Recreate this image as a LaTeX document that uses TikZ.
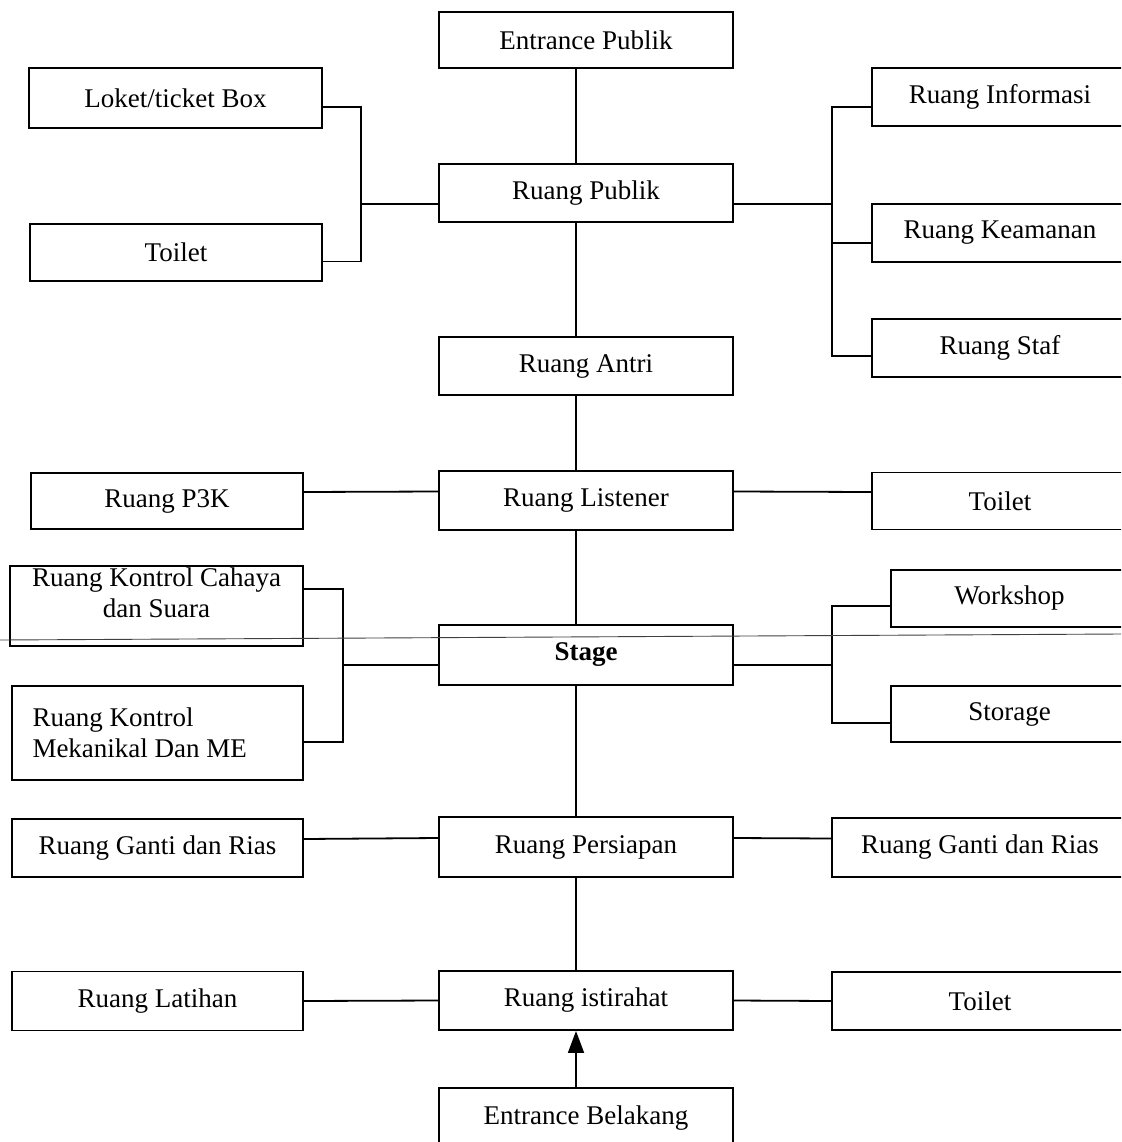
\documentclass[tikz,border=0pt]{standalone}
\usepackage{fontspec}
\setmainfont{Liberation Serif}
\usetikzlibrary{arrows.meta, positioning}
\tikzset{
  % kotak ruang
  ruang/.style={draw=black, line width=1.9pt, minimum height=58pt, align=center,
    inner sep=2pt, font=\fontsize{27}{31}\selectfont},
  % kotak kolom tengah
  tengah/.style={ruang, minimum width=294pt},
  % garis penghubung
  hub/.style={line width=1.8pt},
  % pintu masuk belakang
  masuk/.style={hub, -{Triangle[length=22pt, width=16pt]}},
}

\begin{document}
\begin{tikzpicture}[x=1pt, y=-1pt]
  \clip (0,0) rectangle (1121,1142);
  \fill[white] (0,0) rectangle (1121,1142);
  % kolom tengah
  \node[tengah, minimum height=56pt] (entpub) at (586,40) {Entrance Publik};
  \node[tengah] (publik) at (586,193) {Ruang Publik};
  \node[tengah] (antri) at (586,366) {Ruang Antri};
  \node[tengah, minimum height=59pt] (listener) at (586,500.5) {Ruang Listener};
  \node[tengah, minimum height=60pt, font=\fontsize{27}{31}\selectfont\bfseries] (stage) at (586,655) {Stage};
  \node[tengah, minimum height=60pt] (persiapan) at (586,847) {Ruang Persiapan};
  \node[tengah, minimum height=59pt] (istirahat) at (586,1000.5) {Ruang istirahat};
  \node[tengah, minimum height=60pt] (entbel) at (586,1118) {Entrance Belakang};
  % sisi kiri
  \node[ruang, minimum width=293pt, minimum height=60pt] (loket) at (175.5,98) {Loket/ticket Box};
  \node[ruang, minimum width=292pt, minimum height=57pt] (toiletA) at (176,252.5) {Toilet};
  \node[ruang, minimum width=272pt, minimum height=56pt] (p3k) at (167,501) {Ruang P3K};
  \node[ruang, minimum width=293pt, minimum height=80pt, text depth=27pt] (kontrolcs) at (156.5,606) {Ruang Kontrol Cahaya\\dan Suara};
  \node[ruang, minimum width=291pt, minimum height=94pt, align=flush left, text width=250pt,
    inner xsep=20pt] (kontrolme) at (157.5,733) {Ruang Kontrol\\Mekanikal Dan ME};
  \node[ruang, minimum width=291pt] (gantiL) at (157.5,848) {Ruang Ganti dan Rias};
  \node[ruang, minimum width=291pt, minimum height=59pt] (latihan) at (157.5,1001) {Ruang Latihan};
  % sisi kanan
  \node[ruang, minimum width=256pt] (info) at (1000,97) {Ruang Informasi};
  \node[ruang, minimum width=256pt] (aman) at (1000,233) {Ruang Keamanan};
  \node[ruang, minimum width=256pt] (staf) at (1000,348) {Ruang Staf};
  \node[ruang, minimum width=256pt, minimum height=57pt] (toiletB) at (1000,501) {Toilet};
  \node[ruang, minimum width=237pt, minimum height=57pt] (workshop) at (1009.5,598.5) {Workshop};
  \node[ruang, minimum width=237pt, minimum height=56pt] (storage) at (1009.5,714) {Storage};
  \node[ruang, minimum width=296pt, minimum height=59pt] (gantiR) at (980,847.5) {Ruang Ganti dan Rias};
  \node[ruang, minimum width=296pt] (toiletC) at (980,1001) {Toilet};
  % garis tengah
  \foreach \a/\b in {entpub/publik, publik/antri, antri/listener, listener/stage,
    stage/persiapan, persiapan/istirahat}
    \draw[hub] ([xshift=-10pt]\a.south) -- ([xshift=-10pt]\b.north);
  \draw[masuk] ([xshift=-10pt]entbel.north) -- ([xshift=-10pt]istirahat.south);
  % cabang ruang publik
  \coordinate (brA) at (361,204);
  \coordinate (brB) at (832,204);
  \draw[hub] ([yshift=-9pt]loket.east) -| (brA) |- ([yshift=-9pt]toiletA.east);
  \draw[hub] (brA) -- ([yshift=-11pt]publik.west);
  \draw[hub] ([yshift=-10pt]info.west) -| (brB) |- ([yshift=-8pt]staf.west);
  \draw[hub] ([yshift=-10pt]aman.west) -| (brB);
  \draw[hub] ([yshift=-11pt]publik.east) -- (brB);
  % ruang listener
  \draw[hub] ([yshift=9pt]p3k.east) -- ([yshift=9pt]listener.west);
  \draw[hub] ([yshift=9pt]listener.east) -- ([yshift=9pt]toiletB.west);
  % cabang stage
  \coordinate (brC) at (343,665);
  \coordinate (brD) at (832,665);
  \draw[hub] ([yshift=17pt]kontrolcs.east) -| (brC) |- ([yshift=-9pt]kontrolme.east);
  \draw[hub] (brC) -- ([yshift=-10pt]stage.west);
  \draw[hub] ([yshift=-7.5pt]workshop.west) -| (brD) |- ([yshift=-9pt]storage.west);
  \draw[hub] ([yshift=-10pt]stage.east) -- (brD);
  % persiapan dan istirahat
  \draw[hub] ([yshift=9pt]gantiL.east) -- ([yshift=9pt]persiapan.west);
  \draw[hub] ([yshift=9pt]persiapan.east) -- ([yshift=9pt]gantiR.west);
  \draw[hub] (latihan.east) -- (istirahat.west);
  \draw[hub] (istirahat.east) -- (toiletC.west);
  % garis lepas melintang
  \draw[line width=0.9pt, black!75] (0,640) -- (1121,634);
\end{tikzpicture}
\end{document}
